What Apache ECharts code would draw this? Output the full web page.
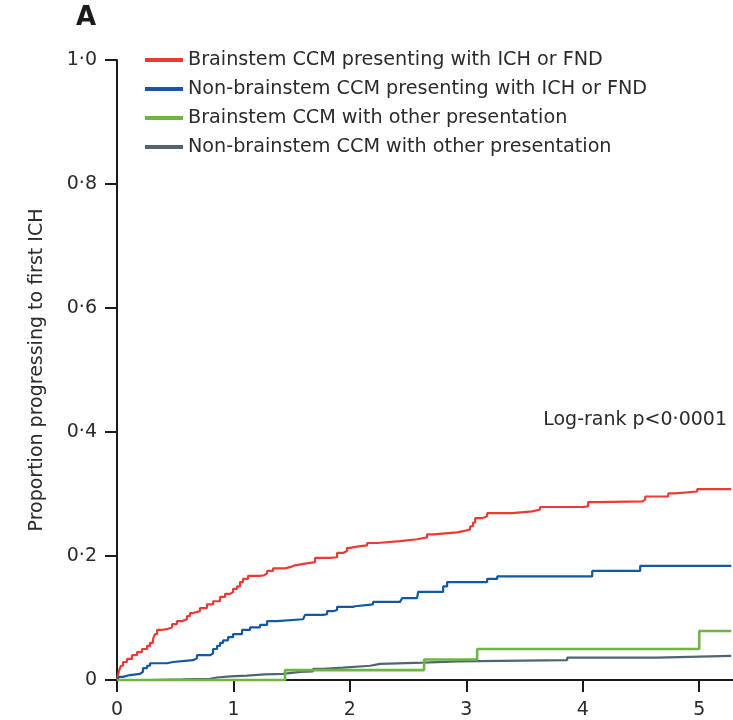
<!DOCTYPE html>
<html>
<head>
<meta charset="utf-8">
<script src="https://cdn.jsdelivr.net/npm/echarts@6/dist/echarts.min.js"></script>
<style>html,body{margin:0;padding:0;background:#fff;}#c{width:733px;height:720px;}</style>
</head>
<body>
<div id="c"></div>
<script>
const seriesNames = [
  'Brainstem CCM presenting with ICH or FND',
  'Non-brainstem CCM presenting with ICH or FND',
  'Brainstem CCM with other presentation',
  'Non-brainstem CCM with other presentation'
];
const xTicks = [0, 1, 2, 3, 4, 5];
const yTicks = [0, 0.2, 0.4, 0.6, 0.8, 1.0];

const redX = [0, 0.017, 0.034, 0.052, 0.086, 0.129, 0.172, 0.215, 0.258, 0.284, 0.309, 0.326, 0.344, 0.387, 0.430, 0.473, 0.515, 0.558, 0.601, 0.627, 0.653, 0.713, 0.773, 0.825, 0.885, 0.928, 0.971, 0.997, 1.031, 1.057, 1.082, 1.125, 1.229, 1.263, 1.289, 1.340, 1.443, 1.486, 1.529, 1.589, 1.701, 1.830, 1.890, 1.942, 1.976, 2.002, 2.088, 2.148, 2.234, 2.431, 2.577, 2.663, 2.715, 2.921, 2.973, 3.033, 3.058, 3.076, 3.136, 3.179, 3.393, 3.565, 3.634, 4.003, 4.046, 4.124, 4.510, 4.536, 4.734, 4.794, 4.983, 5.275];
const redY = [0, 0.015, 0.023, 0.029, 0.034, 0.040, 0.045, 0.050, 0.055, 0.060, 0.066, 0.074, 0.081, 0.082, 0.085, 0.090, 0.095, 0.098, 0.103, 0.108, 0.111, 0.116, 0.122, 0.127, 0.134, 0.139, 0.142, 0.147, 0.151, 0.158, 0.163, 0.168, 0.169, 0.172, 0.176, 0.180, 0.182, 0.185, 0.187, 0.190, 0.197, 0.198, 0.205, 0.208, 0.213, 0.216, 0.217, 0.221, 0.224, 0.227, 0.230, 0.235, 0.238, 0.240, 0.243, 0.248, 0.254, 0.261, 0.264, 0.269, 0.272, 0.275, 0.279, 0.280, 0.287, 0.288, 0.291, 0.296, 0.301, 0.304, 0.308, 0.308];

const blueX = [0, 0.017, 0.052, 0.112, 0.198, 0.223, 0.258, 0.284, 0.430, 0.481, 0.653, 0.687, 0.799, 0.825, 0.859, 0.885, 0.911, 0.954, 0.997, 1.074, 1.143, 1.229, 1.289, 1.375, 1.598, 1.615, 1.770, 1.804, 1.856, 1.890, 2.027, 2.045, 2.199, 2.431, 2.448, 2.577, 2.586, 2.801, 2.835, 3.179, 3.265, 4.081, 4.493, 5.275];
const blueY = [0, 0.005, 0.008, 0.010, 0.013, 0.019, 0.023, 0.027, 0.029, 0.032, 0.035, 0.040, 0.043, 0.050, 0.055, 0.060, 0.064, 0.069, 0.074, 0.081, 0.085, 0.089, 0.095, 0.098, 0.101, 0.105, 0.106, 0.111, 0.113, 0.118, 0.119, 0.122, 0.126, 0.129, 0.132, 0.135, 0.142, 0.151, 0.158, 0.163, 0.167, 0.176, 0.184, 0.184];

const greenX = [0, 1.443, 2.637, 3.093, 5.000, 5.275];
const greenY = [0, 0.016, 0.033, 0.050, 0.079, 0.079];

const grayX = [0, 0.284, 0.567, 0.799, 0.859, 0.971, 1.117, 1.271, 1.426, 1.572, 1.684, 1.770, 1.942, 2.174, 2.259, 2.629, 2.921, 3.866, 4.639, 5.275];
const grayY = [0, 0.001, 0.002, 0.004, 0.006, 0.007, 0.009, 0.010, 0.013, 0.014, 0.018, 0.020, 0.023, 0.026, 0.028, 0.030, 0.032, 0.036, 0.039, 0.039];

const colors = ['#ee3a32', '#1258a4', '#6db644', '#4f6672'];
const FONT = 'DejaVu Sans';

function pairs(xs, ys) { return xs.map((x, i) => [x, ys[i]]); }

const chart = echarts.init(document.getElementById('c'), null, { renderer: 'canvas' });
const allData = [pairs(redX, redY), pairs(blueX, blueY), pairs(greenX, greenY), pairs(grayX, grayY)];
const zs = [3, 3, 4, 2];
const widths = [2.2, 2.2, 2.6, 2.2];

chart.setOption({
  animation: false,
  backgroundColor: '#ffffff',
  textStyle: { fontFamily: FONT },
  grid: { left: 117, top: 60, right: 0, bottom: 39, containLabel: false },
  legend: {
    orient: 'vertical',
    left: 145,
    top: 50.5,
    padding: 0,
    icon: 'rect',
    itemWidth: 38,
    itemHeight: 4,
    itemGap: 10,
    data: seriesNames,
    textStyle: { fontFamily: FONT, fontSize: 19.2, lineHeight: 19, color: '#2b2b2b' }
  },
  xAxis: {
    type: 'value',
    min: 0,
    max: 5.29,
    interval: 1,
    splitLine: { show: false },
    axisLine: { show: true, onZero: false, lineStyle: { color: '#1a1a1a', width: 2 } },
    axisTick: { show: true, length: 12, customValues: xTicks, lineStyle: { color: '#1a1a1a', width: 2 } },
    axisLabel: { customValues: xTicks, fontFamily: FONT, fontSize: 19, color: '#2b2b2b', margin: 21 }
  },
  yAxis: {
    type: 'value',
    min: 0,
    max: 1,
    interval: 0.2,
    name: 'Proportion progressing to first ICH',
    nameLocation: 'middle',
    nameGap: 70,
    nameTextStyle: { fontFamily: FONT, fontSize: 19, color: '#2b2b2b' },
    splitLine: { show: false },
    axisLine: { show: true, lineStyle: { color: '#1a1a1a', width: 2 } },
    axisTick: { show: true, length: 12, customValues: yTicks, lineStyle: { color: '#1a1a1a', width: 2 } },
    axisLabel: {
      customValues: yTicks,
      fontFamily: FONT, fontSize: 19, color: '#2b2b2b', margin: 20,
      formatter: v => v === 0 ? '0' : v.toFixed(1).replace('.', '\u00b7')
    }
  },
  graphic: [
    { type: 'text', left: 76, top: 5, style: { text: 'A', font: 'bold 26px "' + FONT + '"', fill: '#1a1a1a' } },
    { type: 'text', x: 727, y: 420, style: { text: 'Log-rank p<0\u00b70001', font: '19px "' + FONT + '"', fill: '#2b2b2b', textAlign: 'right', textVerticalAlign: 'middle' } }
  ],
  series: seriesNames.map((n, i) => ({
    name: n,
    type: 'line',
    step: 'end',
    data: allData[i],
    symbol: 'none',
    z: zs[i],
    color: colors[i],
    lineStyle: { color: colors[i], width: widths[i] },
    clip: false
  }))
});
</script>
</body>
</html>
